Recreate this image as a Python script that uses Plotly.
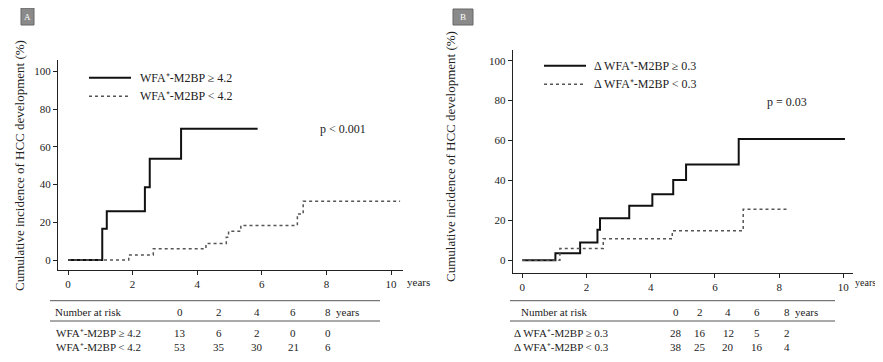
import plotly.graph_objects as go

# The page body has an 8px default margin, so the figure is sized to fit inside it
OFF = 8
W, H = 883 - 2 * OFF, 362 - 2 * OFF

# ---------------- data ----------------
# Panel A
a_high_t = [0, 1.06, 1.2, 2.38, 2.53, 3.5, 5.87]
a_high_v = [0, 16.5, 25.8, 38.5, 53.7, 69.5, 69.5]
a_low_t = [0, 1.88, 2.64, 4.27, 4.9, 4.97, 5.35, 7.1, 7.28, 10.28]
a_low_v = [0, 2.7, 6, 8.7, 12, 15.2, 18.3, 24.4, 31.2, 31.2]
# Panel B
b_high_t = [0, 1.03, 1.8, 2.34, 2.42, 3.33, 4.05, 4.7, 5.1, 6.74, 10.05]
b_high_v = [0, 3.5, 8.8, 15.2, 21, 27.3, 33, 40.2, 48, 60.8, 60.8]
b_low_t = [0, 1.17, 2.52, 4.67, 6.88, 8.29]
b_low_v = [0, 5.8, 10.7, 14.7, 25.5, 25.5]

a_labels = ["WFA\u207a-M2BP \u2265 4.2", "WFA\u207a-M2BP < 4.2"]
b_labels = ["\u0394 WFA\u207a-M2BP \u2265 0.3", "\u0394 WFA\u207a-M2BP < 0.3"]
a_p = "p < 0.001"
b_p = "p = 0.03"

risk_years = ["0", "2", "4", "6", "8"]
a_risk_high = [13, 6, 2, 0, 0]
a_risk_low = [53, 35, 30, 21, 6]
b_risk_high = [28, 16, 12, 5, 2]
b_risk_low = [38, 25, 20, 16, 4]

x_ticks = [0, 2, 4, 6, 8, 10]
y_ticks = [0, 20, 40, 60, 80, 100]
y_title = "Cumulative incidence of HCC development (%)"

FONT = "Liberation Serif, Times New Roman, serif"
TXT = "#222222"


def px(x):
    return (x - OFF) / W


def py(y):
    return 1 - (y - OFF) / H


fig = go.Figure()

solid = dict(color="#111111", width=2)
dotted = dict(color="#555555", width=1.5, dash="dot")

fig.add_trace(go.Scatter(x=a_high_t, y=a_high_v, mode="lines", line=solid, line_shape="hv",
                         xaxis="x", yaxis="y", showlegend=False))
fig.add_trace(go.Scatter(x=a_low_t, y=a_low_v, mode="lines", line=dotted, line_shape="hv",
                         xaxis="x", yaxis="y", showlegend=False))
fig.add_trace(go.Scatter(x=b_high_t, y=b_high_v, mode="lines", line=solid, line_shape="hv",
                         xaxis="x2", yaxis="y2", showlegend=False))
fig.add_trace(go.Scatter(x=b_low_t, y=b_low_v, mode="lines", line=dotted, line_shape="hv",
                         xaxis="x2", yaxis="y2", showlegend=False))

axis_common = dict(showgrid=False, zeroline=False, showline=True, linecolor="#222", linewidth=1,
                   ticks="outside", ticklen=4, tickcolor="#222",
                   tickfont=dict(family=FONT, size=11, color=TXT), fixedrange=True)

fig.update_layout(
    width=W, height=H, margin=dict(l=0, r=0, t=0, b=0),
    font=dict(family=FONT, color=TXT),
    paper_bgcolor="white", plot_bgcolor="white",
    xaxis=dict(domain=[px(58), px(403)], range=[-0.31, 10.37], tickvals=x_ticks,
               anchor="y", **axis_common),
    yaxis=dict(domain=[py(270), py(60)], range=[-5.3, 106], tickvals=y_ticks,
               anchor="x", **axis_common),
    xaxis2=dict(domain=[px(512.7), px(853)], range=[-0.3, 10.3], tickvals=x_ticks,
                anchor="y2", **axis_common),
    yaxis2=dict(domain=[py(272.7), py(50)], range=[-6.3, 105.4], tickvals=y_ticks,
                anchor="x2", **axis_common),
)

ann = []
shapes = []


def text(x, y, s, size=11, xanchor="center", angle=0, color=TXT):
    ann.append(dict(x=px(x), y=py(y), xref="paper", yref="paper", text=s, showarrow=False,
                    xanchor=xanchor, yanchor="middle", textangle=angle,
                    font=dict(family=FONT, size=size, color=color)))


def hline(x0, x1, y, color="#333", width=1, dash=None):
    ln = dict(color=color, width=width)
    if dash:
        ln["dash"] = dash
    shapes.append(dict(type="line", xref="paper", yref="paper", x0=px(x0), x1=px(x1),
                       y0=py(y), y1=py(y), line=ln))


# panel letter boxes
for (x0, y0, x1, y1, letter) in [(21, 8, 34, 25, "A"), (453, 9, 473, 25, "B")]:
    shapes.append(dict(type="rect", xref="paper", yref="paper", x0=px(x0), x1=px(x1),
                       y0=py(y1), y1=py(y0), fillcolor="#8a8a8a", line=dict(color="#666", width=1)))
    text((x0 + x1) / 2, (y0 + y1) / 2 + 0.5, letter, size=9, color="white")

# y titles
text(20, 166, y_title, size=13, angle=-90)
text(450, 156, y_title, size=13, angle=-90)

# "years" after x axis
text(405, 282, "years", size=11, xanchor="left")
text(853, 282, "years", size=10, xanchor="left")

# legends
hline(89, 131, 77.7, color="#111", width=2)
hline(89, 131, 96.3, color="#555", width=1.5, dash="dot")
text(137.7, 77.7, a_labels[0], size=12, xanchor="left")
text(137.7, 96.3, a_labels[1], size=12, xanchor="left")
text(343, 129, a_p, size=12)

hline(544, 586, 65.7, color="#111", width=2)
hline(544, 586, 84.3, color="#555", width=1.5, dash="dot")
text(592, 65.7, b_labels[0], size=12, xanchor="left")
text(592, 84.3, b_labels[1], size=12, xanchor="left")
text(787, 102, b_p, size=12)


# number-at-risk tables
def table(x0, x1, head_x, label_x, col_x, years_x, labels, r1, r2):
    hline(x0, x1, 300.7, color="#555")
    hline(x0, x1, 321, color="#555")
    hline(x0, x1, 356.7, color="#555")
    text(head_x, 311.7, "Number at risk", size=11)
    for cx, yv in zip(col_x, risk_years):
        text(cx, 311.7, yv, size=11)
    text(years_x, 311.7, "years", size=11, xanchor="left")
    text(label_x, 332.7, labels[0], size=11, xanchor="left")
    text(label_x, 347, labels[1], size=11, xanchor="left")
    for cx, v in zip(col_x, r1):
        text(cx, 332.7, str(v), size=11)
    for cx, v in zip(col_x, r2):
        text(cx, 347, str(v), size=11)


table(50, 380, 88, 54, [180, 219, 257, 293, 328], 334, a_labels, a_risk_high, a_risk_low)
table(510, 835, 554, 512, [676, 700, 728, 757, 787], 793, b_labels, b_risk_high, b_risk_low)

fig.update_layout(annotations=ann, shapes=shapes)
fig.write_html("out.html")
